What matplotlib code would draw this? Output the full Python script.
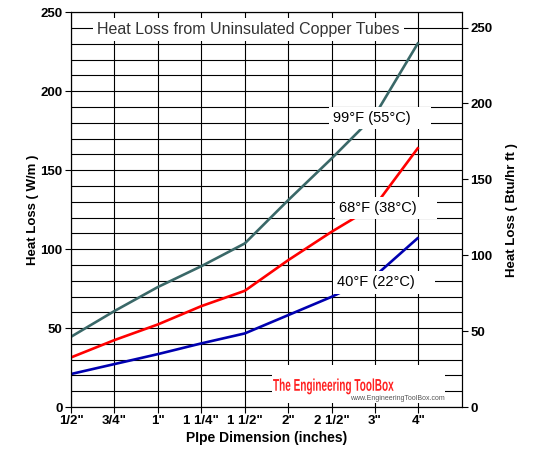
import matplotlib.pyplot as plt
import numpy as np
from matplotlib.textpath import TextPath
from matplotlib.patches import PathPatch, Rectangle
from matplotlib.font_manager import FontProperties
from matplotlib.transforms import Affine2D

plt.rcParams['font.family'] = ['Liberation Sans', 'DejaVu Sans']

# pipe sizes and heat loss (W/m)
sizes = ['1/2"', '3/4"', '1"', '1 1/4"', '1 1/2"', '2"', '2 1/2"', '3"', '4"']
loss_99F = [44.5, 60.8, 76.0, 89.2, 103.6, 131.0, 157.4, 185.0, 231.0]
loss_68F = [31.4, 42.4, 52.3, 63.9, 73.6, 93.0, 111.0, 127.5, 164.5]
loss_40F = [20.9, 27.2, 33.5, 40.3, 46.6, 58.2, 69.8, 83.0, 107.4]

labels = ['99°F (55°C)', '68°F (38°C)', '40°F (22°C)']
colors = ['#3a6868', '#ff0000', '#0000b0']

W_TO_BTU = 1.0403  # W/m -> Btu/(hr ft)

fig = plt.figure(figsize=(5.34, 4.68), dpi=100)
ax = fig.add_axes([0.133, 0.1303, 0.732, 0.8434])

x = np.arange(len(sizes))
for vals, c in zip([loss_99F, loss_68F, loss_40F], colors):
    ax.plot(x, vals, color=c, lw=1.9, zorder=3, solid_capstyle='butt')

ax.set_xlim(0, 9)
ax.set_ylim(0, 250)
ax.set_xticks(x)
ax.set_xticklabels(sizes)
ax.set_yticks(np.arange(0, 251, 50))
ax.set_yticks(np.arange(0, 251, 10), minor=True)
ax.tick_params(axis='y', which='minor', length=0)
ax.tick_params(axis='both', which='major', direction='out', length=4, width=0.8,
               labelsize=9.5, pad=2)
for t in ax.get_xticklabels() + ax.get_yticklabels():
    t.set_fontweight('bold')

ax.grid(True, which='both', axis='y', color='black', lw=0.8, zorder=1)
ax.grid(True, which='major', axis='x', color='black', lw=0.8, zorder=1)
for s in ax.spines.values():
    s.set_linewidth(0.8)

ax.set_ylabel('Heat Loss ( W/m )', fontsize=9.5, fontweight='bold')
ax.yaxis.set_label_coords(-0.082, 0.5)
ax.set_xlabel('PIpe Dimension (inches)', fontsize=10, fontweight='bold')
ax.xaxis.set_label_coords(0.5, -0.061)

ax2 = ax.twinx()
ax2.set_ylim(0, 250 * W_TO_BTU)
ax2.set_yticks(np.arange(0, 251, 50))
ax2.tick_params(axis='y', direction='out', length=4, width=0.8, labelsize=9.5, pad=2)
for t in ax2.get_yticklabels():
    t.set_fontweight('bold')
ax2.set_ylabel('Heat Loss ( Btu/hr ft )', fontsize=9.5, fontweight='bold')
ax2.yaxis.set_label_coords(1.113, 0.5)
for s in ax2.spines.values():
    s.set_linewidth(0.8)

box = dict(facecolor='white', edgecolor='none', pad=3)
ax.text(0.6, 239, 'Heat Loss from Uninsulated Copper Tubes', fontsize=11.5,
        color='#333333', va='center', ha='left', zorder=5, bbox=box)

label_pos = [(6.03, 183), (6.17, 126), (6.12, 79)]
for (lx, ly), lab in zip(label_pos, labels):
    ax.text(lx, ly, lab + '    ', fontsize=10.5, va='center', ha='left', zorder=5,
            bbox=box)

# watermark: white patch + condensed red text
ax.add_patch(Rectangle((4.63, 2.5), 3.98, 24.1, facecolor='white', edgecolor='none',
                       zorder=4))
tp = TextPath((0, 0), 'The Engineering ToolBox', size=17,
              prop=FontProperties(family='Liberation Sans', weight='bold'))
x0, y0 = ax.transData.transform((4.65, 10.3))
ax.add_patch(PathPatch(tp, facecolor='#ff2020', edgecolor='none', zorder=6,
                       transform=Affine2D().scale(0.59, 1.0).translate(x0, y0)))
ax.text(6.42, 5.7, 'www.EngineeringToolBox.com', fontsize=5, color='#555555',
        va='center', ha='left', zorder=6)

fig.savefig('out.png', dpi=100)
